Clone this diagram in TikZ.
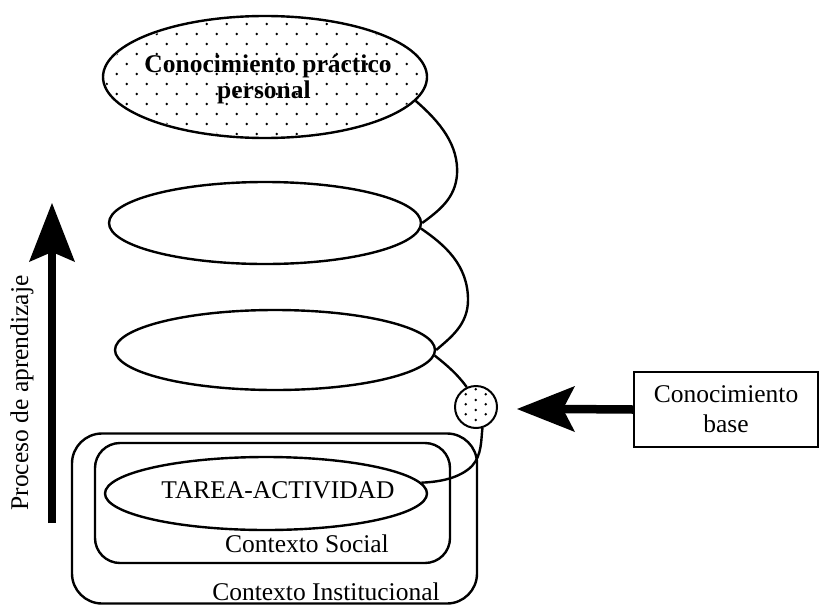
\documentclass[tikz,border=0pt]{standalone}
\usepackage{fontspec}
\setmainfont{Liberation Serif}
\usetikzlibrary{shapes.geometric}
\begin{document}
\begin{tikzpicture}[x=1pt,y=-1pt,
  conn/.style={line width=2.4pt},
  ell/.style={draw,line width=2.4pt,ellipse,inner sep=0pt},
  lab/.style={font=\fontsize{25.5}{30}\selectfont,inner sep=0pt},
  blab/.style={font=\fontsize{25.5}{30}\selectfont\bfseries,inner sep=0pt},
  rbox/.style={draw,line width=2.4pt,inner sep=0pt},
  bigarrow/.style={fill=black,draw=none}]
\useasboundingbox (0,0) rectangle (821,605);

% dotted fill of the top ellipse
\begin{scope}
\clip (265,77) ellipse [x radius=160, y radius=59];
\foreach \r in {0,...,11}{
  \foreach \c in {0,...,18}{
    \fill ({86.7+20*\c+10*mod(\r,2)},{24+10*\r}) circle (1.3);
  }
}
\end{scope}

% ellipses
\node[ell,minimum width=324pt,minimum height=122pt] (e1) at (265,77) {};
\node[blab,anchor=base] (e1a) at (268,72) {Conocimiento práctico};
\node[blab,anchor=base] (e1b) at (264,98) {personal};
\node[ell,minimum width=312pt,minimum height=82pt] (e2) at (265,223) {};
\node[ell,minimum width=320pt,minimum height=80pt] (e3) at (275,350) {};

% contexts
\node[rbox,rounded corners=30pt,minimum width=405pt,minimum height=170pt] (inst) at (274.5,518.5) {};
\node[rbox,rounded corners=25pt,minimum width=355pt,minimum height=120pt] (soc) at (272.5,503) {};
\node[ell,minimum width=322pt,minimum height=73pt] (t) at (266,493.5) {};
\node[lab,anchor=base] (tl) at (278,498) {TAREA-ACTIVIDAD};
\node[lab,anchor=base] (sl) at (307,552) {Contexto Social};
\node[lab,anchor=base] (il) at (326,600) {Contexto Institucional};

% small dotted circle
\node[draw,line width=2pt,circle,minimum size=42pt,inner sep=0pt] (c) at (476,407) {};
\foreach \p in {(475.7,389.3),(465.7,394.3),(485.7,394.3),(475.7,400),(465.7,404.3),(485.7,404.3),(475.7,410),(465.7,414.3),(485.7,414.3),(475.7,420)}
  \fill \p circle (1.4);

% spiral connectors
\draw[conn] (e1.-9) .. controls (440,122) and (459,145) .. (457,175)
            .. controls (455,198) and (440,210) .. (e2.east);
\draw[conn] (e2.-2) .. controls (445,245) and (468,265) .. (468,300)
            .. controls (468,325) and (450,338) .. (e3.east);
\draw[conn] (e3.-2) .. controls (448,366) and (458,375) .. (c.115);
\draw[conn] (c.-73) .. controls (481,440) and (482,455) .. (472,466)
            .. controls (460,478) and (440,482) .. (t.4);

% knowledge base box and arrow
\node[rbox,minimum width=184pt,minimum height=75pt,align=center,
      font=\fontsize{25.5}{30}\selectfont] (kb) at (726,409.5) {Conocimiento\\base};
\coordinate (htip) at (517,409);
\fill[bigarrow] (htip) -- (575,386) -- (563,409) -- (575,432) -- cycle;
\draw[line width=8.5pt] (kb.west) -- (562,409);

% learning process arrow
\coordinate (vtip) at (52,203);
\coordinate (vbot) at (52,523);
\fill[bigarrow] (vtip) -- (75,262) -- (52,252) -- (29,262) -- cycle;
\draw[line width=8.5pt] (vbot) -- (52,251);
\node[lab,rotate=90] (pl) at (22,393) {Proceso de aprendizaje};
\end{tikzpicture}
\end{document}
